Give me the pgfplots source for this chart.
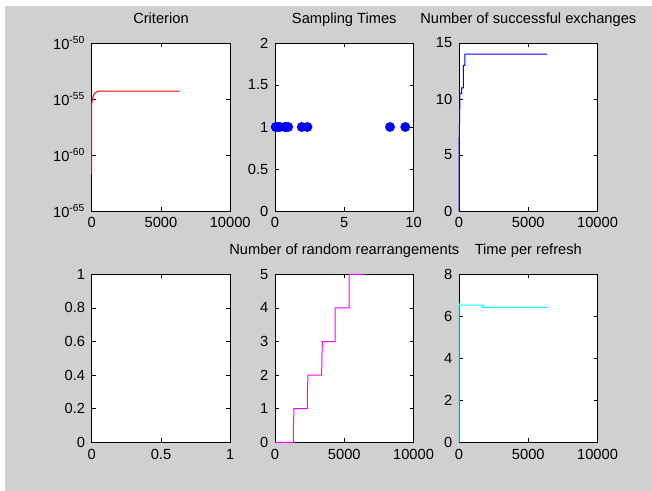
\documentclass[border=0pt]{standalone}
\usepackage{fontspec}
\setmainfont{Liberation Sans}
\usepackage{pgfplots}
\pgfplotsset{compat=1.18}
\definecolor{figgray}{RGB}{208,208,208}
\definecolor{mred}{RGB}{255,0,0}
\definecolor{mblue}{RGB}{0,0,255}
\definecolor{mmag}{RGB}{255,0,255}
\definecolor{mcyan}{RGB}{0,255,255}
\pgfplotsset{
  mlab/.style={
    scale only axis, width=103.9pt, height=126pt,
    anchor=south west, clip=false,
    axis background/.style={fill=white},
    axis line style={black, line width=0.6pt},
    tick align=inside, major tick length=3pt,
    tick style={black, line width=0.5pt},
    ticklabel style={font=\fontsize{11}{12}\selectfont},
    /pgf/number format/assume math mode=true,
    /pgf/number format/1000 sep={},
    scaled ticks=false,
    yticklabel style={xshift=-1.5pt},
    xticklabel style={yshift=-1.5pt},
    title style={at={(0.5,1)}, anchor=base, yshift=8.7pt,
      font=\fontsize{11}{12}\selectfont},
    every axis plot/.append style={line width=0.75pt},
  }
}
\begin{document}
\begin{tikzpicture}
% figure area, 652x491 px at 0.75pt per px
\fill[white] (0pt,0pt) rectangle (489pt,-368.25pt);
\fill[figgray] (3.75pt,-4.5pt) rectangle (489pt,-368.25pt);

% top left: criterion (log)
\begin{axis}[mlab, at={(68.775pt,-158.25pt)}, title={Criterion},
  xmin=0, xmax=10000, xtick={0,5000,10000},
  ymode=log, ymin=1e-65, ymax=1e-50,
  ytick={1e-65,1e-60,1e-55,1e-50}, yminorticks=false,
  yticklabels={10\textsuperscript{-65},10\textsuperscript{-60},10\textsuperscript{-55},10\textsuperscript{-50}}]
\addplot[mred, no marks] coordinates {
  (0,2e-62) (0,4e-56) (50,1e-55) (150,2.5e-55) (300,4e-55) (500,5e-55) (6350,5e-55)};
\end{axis}

% top middle: sampling times
\begin{axis}[mlab, at={(206.25pt,-158.25pt)}, title={Sampling Times},
  xmin=0, xmax=10, xtick={0,5,10},
  ymin=0, ymax=2, ytick={0,0.5,1,1.5,2}]
\addplot[mblue, only marks, mark=*, mark size=3.3pt, mark options={fill=mblue}] coordinates {
  (0.05,1) (0.2,1) (0.35,1) (0.7,1) (0.85,1) (0.95,1) (1.93,1) (2.34,1) (8.3,1) (9.4,1)};
\end{axis}

% top right: successful exchanges
\begin{axis}[mlab, at={(344.25pt,-158.25pt)}, title={Number of successful exchanges},
  xmin=0, xmax=10000, xtick={0,5000,10000},
  ymin=0, ymax=15, ytick={0,5,10,15}]
\addplot[mblue, no marks] coordinates {
  (0,0) (0,5.5) (40,8) (70,10.5) (190,10.5) (190,11) (310,11) (310,13) (430,13) (430,14) (6340,14)};
\end{axis}

% bottom left: empty
\begin{axis}[mlab, at={(68.775pt,-331.725pt)},
  xmin=0, xmax=1, xtick={0,0.5,1},
  ymin=0, ymax=1, ytick={0,0.2,0.4,0.6,0.8,1}]
\end{axis}

% bottom middle: random rearrangements
\begin{axis}[mlab, at={(206.25pt,-331.725pt)}, title={Number of random rearrangements},
  xmin=0, xmax=10000, xtick={0,5000,10000},
  ymin=0, ymax=5, ytick={0,1,2,3,4,5}]
\addplot[mmag, no marks] coordinates {
  (0,0) (1320,0) (1330,0.5) (1370,1) (2330,1) (2340,1.5) (2380,2) (3370,2) (3380,2.5) (3420,3)
  (4340,3) (4340,4) (5350,4) (5350,5) (6340,5)};
\end{axis}

% bottom right: time per refresh
\begin{axis}[mlab, at={(344.25pt,-331.725pt)}, title={Time per refresh},
  xmin=0, xmax=10000, xtick={0,5000,10000},
  ymin=0, ymax=8, ytick={0,2,4,6,8}]
\addplot[mcyan, no marks] coordinates {
  (0,0) (0,6.6) (50,6.53) (1710,6.53) (1710,6.43) (6340,6.43)};
\end{axis}
\end{tikzpicture}
\end{document}
